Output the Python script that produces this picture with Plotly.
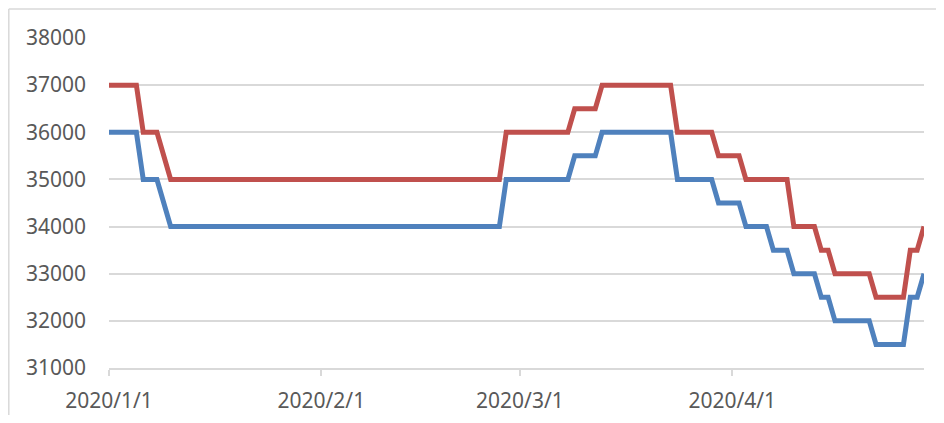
import plotly.graph_objects as go

# Dates at which the readings were taken (corner points of the stepped lines)
dates = [
    "2020-01-01", "2020-01-05", "2020-01-06", "2020-01-08", "2020-01-10",
    "2020-02-27", "2020-02-28", "2020-03-08", "2020-03-09", "2020-03-12",
    "2020-03-13", "2020-03-23", "2020-03-24", "2020-03-29", "2020-03-30",
    "2020-04-02", "2020-04-03", "2020-04-06", "2020-04-07", "2020-04-09",
    "2020-04-10", "2020-04-13", "2020-04-14", "2020-04-15", "2020-04-16",
    "2020-04-21", "2020-04-22", "2020-04-26", "2020-04-27", "2020-04-28",
    "2020-04-29",
]

blue_values = [
    36000, 36000, 35000, 35000, 34000,
    34000, 35000, 35000, 35500, 35500,
    36000, 36000, 35000, 35000, 34500,
    34500, 34000, 34000, 33500, 33500,
    33000, 33000, 32500, 32500, 32000,
    32000, 31500, 31500, 32500, 32500,
    33000,
]

red_values = [
    37000, 37000, 36000, 36000, 35000,
    35000, 36000, 36000, 36500, 36500,
    37000, 37000, 36000, 36000, 35500,
    35500, 35000, 35000, 35000, 35000,
    34000, 34000, 33500, 33500, 33000,
    33000, 32500, 32500, 33500, 33500,
    34000,
]

x_tick_values = ["2020-01-01", "2020-02-01", "2020-03-01", "2020-04-01"]
x_tick_labels = ["2020/1/1", "2020/2/1", "2020/3/1", "2020/4/1"]

y_tick_values = [31000, 32000, 33000, 34000, 35000, 36000, 37000, 38000]
y_tick_labels = ["31000", "32000", "33000", "34000", "35000", "36000", "37000", "38000"]

x_range = ["2020-01-01", "2020-04-29"]
y_range = [31000, 38000]

BLUE = "#4F81BD"
RED = "#C0504D"
GRID = "#D9D9D9"
TEXT = "#595959"

fig = go.Figure()
fig.add_trace(go.Scatter(x=dates, y=blue_values, mode="lines",
                         line=dict(color=BLUE, width=5), showlegend=False,
                         hoverinfo="skip", cliponaxis=False))
fig.add_trace(go.Scatter(x=dates, y=red_values, mode="lines",
                         line=dict(color=RED, width=5), showlegend=False,
                         hoverinfo="skip", cliponaxis=False))

# the page body has an 8px margin, so the figure starts at (8, 8) on the page
OFF = 8
W, H = 944 - 2 * OFF, 423 - 2 * OFF
PL, PR, PT, PB = 109, 924, 38, 368          # plot area in page pixels
L, T = PL - OFF, PT - OFF
R = W - (PR - OFF)
B = H - (PB - OFF)
pw = PR - PL
ph = PB - PT


def px(x):
    return (x - PL) / pw


def py(y):
    return (PB - y) / ph


shapes = [
    # chart-area frame (left and top edges visible)
    dict(type="line", xref="paper", yref="paper", x0=px(8.8), x1=px(8.8),
         y0=py(440), y1=py(9), line=dict(color=GRID, width=1.5)),
    dict(type="line", xref="paper", yref="paper", x0=px(8.8), x1=px(1000),
         y0=py(9), y1=py(9), line=dict(color=GRID, width=1.5)),
]

fig.update_layout(
    width=W, height=H,
    margin=dict(l=L, r=R, t=T, b=B, autoexpand=False),
    paper_bgcolor="white", plot_bgcolor="white",
    font=dict(family="Noto Sans", size=21, color=TEXT),
    shapes=shapes,
    xaxis=dict(
        type="date", range=x_range,
        tickvals=x_tick_values, ticktext=x_tick_labels,
        showgrid=False, zeroline=False,
        showline=True, linecolor=GRID, linewidth=1.5,
        ticks="outside", ticklen=6, tickcolor=GRID, tickwidth=1.5,
        ticklabelstandoff=7,
        tickfont=dict(family="Noto Sans", size=21, color=TEXT),
    ),
    yaxis=dict(
        range=y_range,
        tickvals=y_tick_values, ticktext=y_tick_labels,
        showgrid=True, gridcolor=GRID, gridwidth=1.5,
        zeroline=False, showline=False, ticks="",
        ticklabelstandoff=22,
        tickfont=dict(family="Noto Sans", size=21, color=TEXT),
    ),
)

fig.write_html("out.html")
